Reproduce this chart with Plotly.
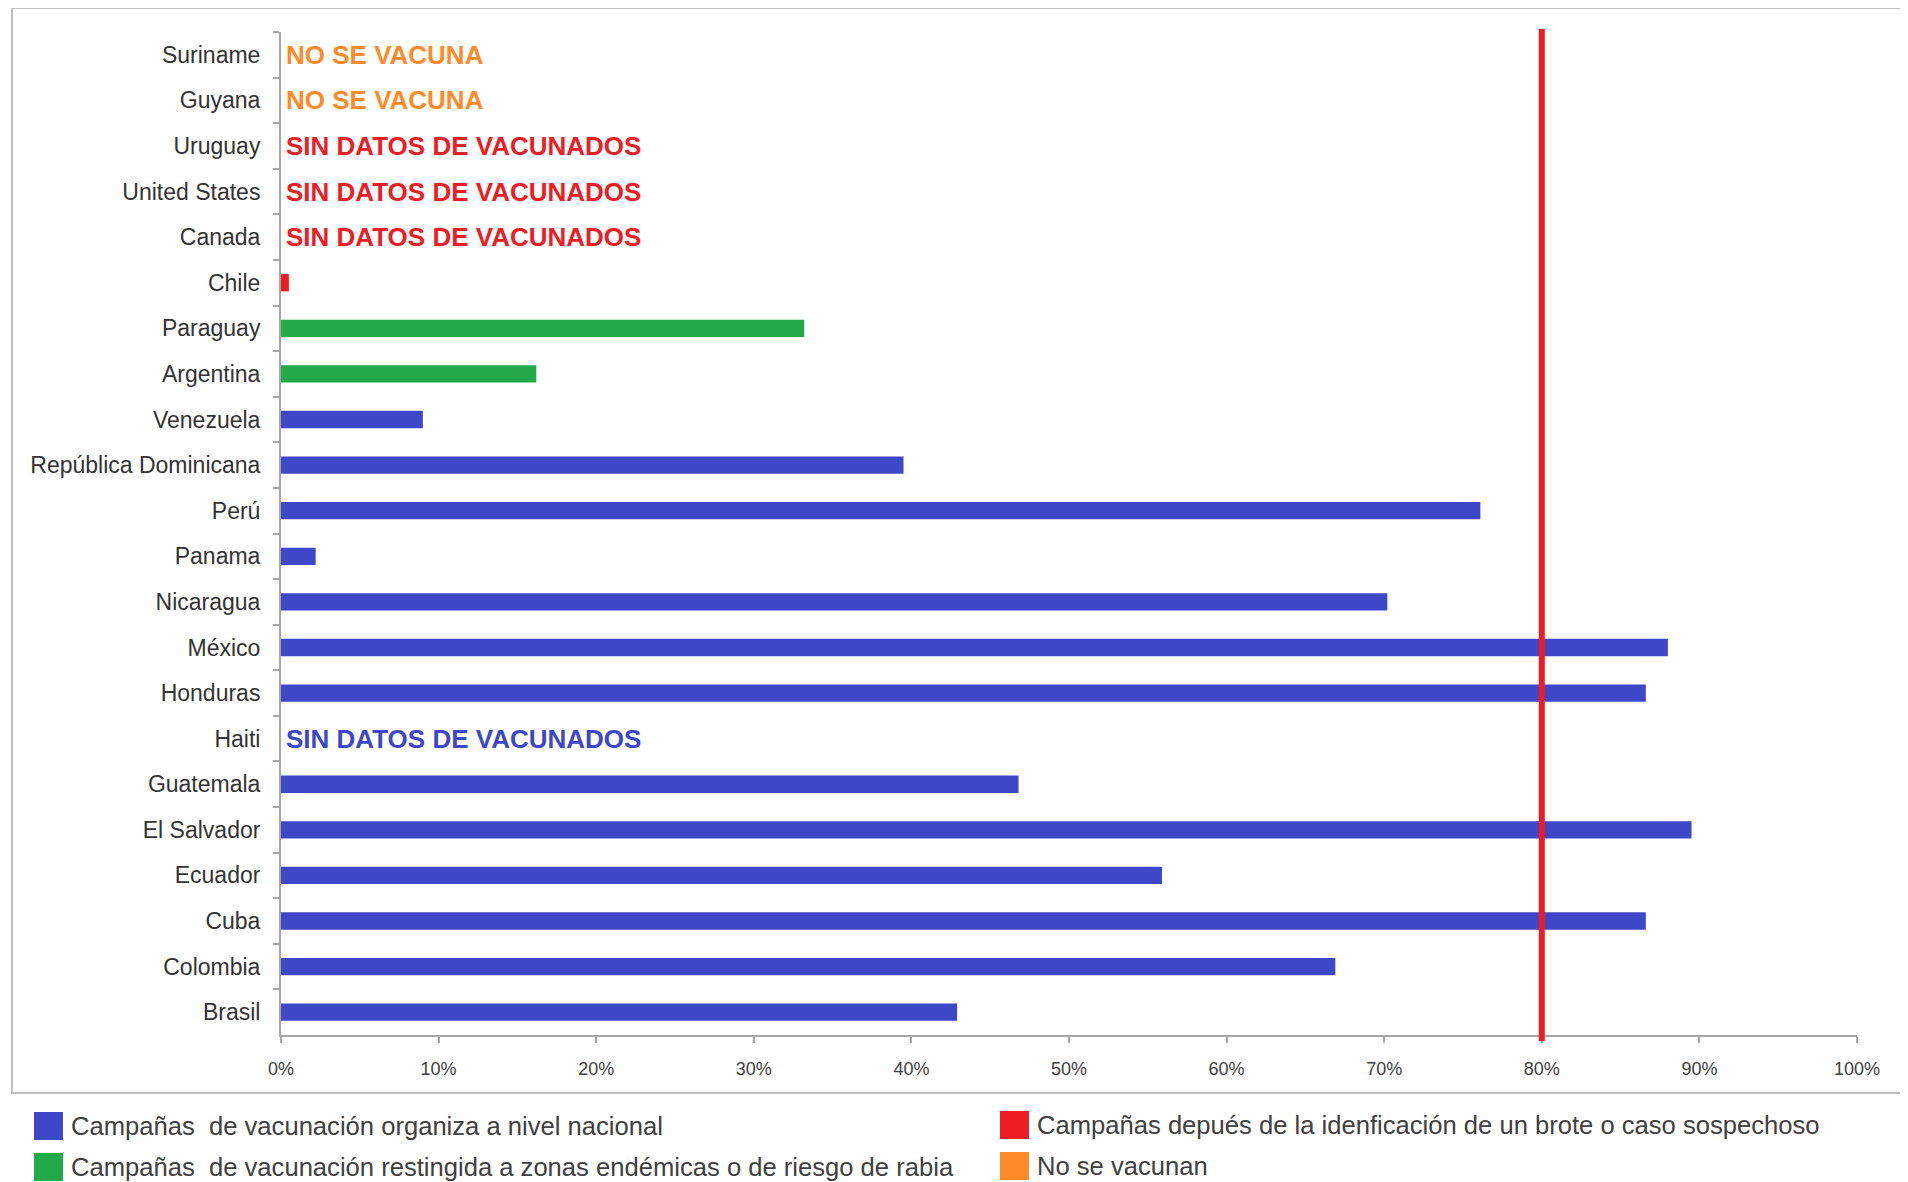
import plotly.graph_objects as go

# ---------------- data ----------------
COUNTRIES = ["Suriname", "Guyana", "Uruguay", "United States", "Canada", "Chile",
             "Paraguay", "Argentina", "Venezuela", "República Dominicana", "Perú",
             "Panama", "Nicaragua", "México", "Honduras", "Haiti", "Guatemala",
             "El Salvador", "Ecuador", "Cuba", "Colombia", "Brasil"]
COVERAGE = [None, None, None, None, None, 0.5,
            33.2, 16.2, 9.0, 39.5, 76.1,
            2.2, 70.2, 88.0, 86.6, None, 46.8,
            89.5, 55.9, 86.6, 66.9, 42.9]
STRATEGY = ["none", "none", "brote", "brote", "brote", "brote",
            "restr", "restr", "nac", "nac", "nac",
            "nac", "nac", "nac", "nac", "nac", "nac",
            "nac", "nac", "nac", "nac", "nac"]
GROUPS = ["nac", "restr", "brote", "none"]
GROUP_LABELS = {
    "nac": "Campañas  de vacunación organiza a nivel nacional",
    "restr": "Campañas  de vacunación restingida a zonas endémicas o de riesgo de rabia",
    "brote": "Campañas depués de la idenficación de un brote o caso sospechoso",
    "none": "No se vacunan",
}
GROUP_COLORS = {"nac": "#3D47C8", "restr": "#22AA4A", "brote": "#EE1C25", "none": "#FF8A2A"}
NO_DATA_TEXT = {"none": "NO SE VACUNA", "nac": "SIN DATOS DE VACUNADOS",
                "restr": "SIN DATOS DE VACUNADOS", "brote": "SIN DATOS DE VACUNADOS"}
TARGET = 80
X_TICKS = [0, 10, 20, 30, 40, 50, 60, 70, 80, 90, 100]

FONT = "Liberation Sans, Arial, sans-serif"

fig = go.Figure()
for g in GROUPS:
    ys = [c for c, s in zip(COUNTRIES, STRATEGY) if s == g]
    xs = [v for v, s in zip(COVERAGE, STRATEGY) if s == g]
    fig.add_trace(go.Bar(
        x=xs, y=ys, orientation="h", name=GROUP_LABELS[g],
        marker=dict(color=GROUP_COLORS[g], line=dict(width=0)),
        width=0.38, showlegend=False, hoverinfo="x+y",
    ))

# no-data notes
for c, v, s in zip(COUNTRIES, COVERAGE, STRATEGY):
    if v is None:
        fig.add_annotation(x=0, y=c, xref="x", yref="y", text=NO_DATA_TEXT[s],
                           showarrow=False, xanchor="left", yanchor="middle", xshift=3,
                           font=dict(family=FONT, size=26, color=GROUP_COLORS[s], weight="bold"))

# target line
fig.add_shape(type="line", xref="x", yref="paper", x0=TARGET, x1=TARGET, y0=-0.006, y1=1.003,
              line=dict(color="#EE1C25", width=6), layer="above")

# layout geometry (page body has an 8px margin)
OFF = 8
W0, H0 = 1908 - OFF, 1182 - OFF
L, R, T, B = 281 - OFF, 51, 32 - OFF, 147
pw, ph = W0 - L - R, H0 - T - B


def px(x):
    return (x - OFF - L) / pw


def py(y):
    return (H0 - B - (y - OFF)) / ph


fig.add_shape(type="rect", xref="paper", yref="paper", x0=px(12), x1=px(1905), y0=py(1093), y1=py(8),
              line=dict(color="#BFBFBF", width=2), layer="below")

# manual legend
legend_pos = {"nac": (34, 1112, 1126), "restr": (34, 1153, 1167),
              "brote": (1000, 1111, 1125), "none": (1000, 1152, 1166)}
for g in GROUPS:
    x0, ytop, ymid = legend_pos[g]
    fig.add_shape(type="rect", xref="paper", yref="paper", x0=px(x0), x1=px(x0 + 29),
                  y0=py(ytop + 28), y1=py(ytop), fillcolor=GROUP_COLORS[g], line=dict(width=0))
    fig.add_annotation(xref="paper", yref="paper", x=px(x0 + 35), y=py(ymid), text=GROUP_LABELS[g],
                       showarrow=False, xanchor="left", yanchor="middle",
                       font=dict(family=FONT, size=25.6, color="#404040"))

fig.update_layout(
    barmode="overlay",
    width=W0, height=H0,
    margin=dict(l=L, r=R, t=T, b=B, autoexpand=False),
    paper_bgcolor="white", plot_bgcolor="white",
    font=dict(family=FONT, color="#333333"),
    showlegend=False,
    xaxis=dict(range=[0, 100], tickvals=X_TICKS, ticktext=[f"{t}%" for t in X_TICKS],
               showgrid=False, zeroline=False, showline=True, linecolor="#A6A6A6", linewidth=2,
               ticks="outside", ticklen=6, tickcolor="#A6A6A6", tickwidth=1.5,
               tickfont=dict(family=FONT, size=18, color="#404040"), ticklabelstandoff=10),
    yaxis=dict(type="category", categoryorder="array", categoryarray=COUNTRIES,
               range=[len(COUNTRIES) - 0.5, -0.5],
               showgrid=False, zeroline=False, showline=True, linecolor="#A6A6A6", linewidth=2,
               ticks="outside", tickson="boundaries", ticklen=6, tickcolor="#A6A6A6", tickwidth=1.5,
               tickfont=dict(family=FONT, size=23, color="#333333"), ticklabelstandoff=14),
)

fig.write_html("out.html")
